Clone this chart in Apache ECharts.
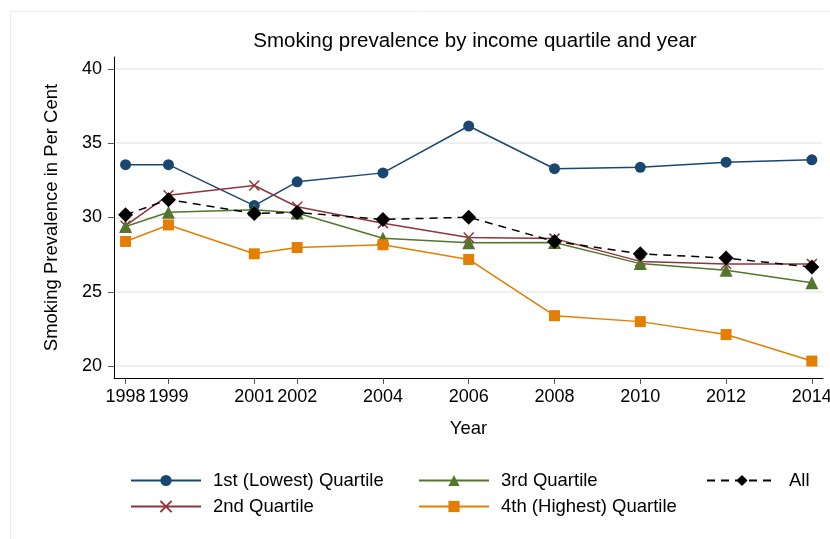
<!DOCTYPE html>
<html>
<head>
<meta charset="utf-8">
<script src="https://cdn.jsdelivr.net/npm/echarts@6/dist/echarts.min.js"></script>
<style>html,body{margin:0;padding:0;background:#fff}#c{width:830px;height:539px}</style>
</head>
<body>
<div id="c"></div>
<script>
const years = [1998, 1999, 2001, 2002, 2004, 2006, 2008, 2010, 2012, 2014];
const yTicks = [20, 25, 30, 35, 40];
const q1 = [33.55, 33.55, 30.8, 32.4, 33.0, 36.15, 33.28, 33.37, 33.72, 33.88];
const q2 = [29.45, 31.5, 32.15, 30.72, 29.62, 28.65, 28.58, 27.05, 26.87, 26.87];
const q3 = [29.4, 30.35, 30.52, 30.3, 28.6, 28.3, 28.32, 26.9, 26.45, 25.62];
const q4 = [28.39, 29.5, 27.56, 27.98, 28.17, 27.18, 23.4, 23.0, 22.13, 20.35];
const all = [30.18, 31.2, 30.27, 30.34, 29.87, 30.02, 28.39, 27.56, 27.27, 26.67];
const names = ['1st (Lowest) Quartile', '2nd Quartile', '3rd Quartile', '4th (Highest) Quartile', 'All'];

const FONT = 'Liberation Sans, Arial, sans-serif';
const pairs = arr => years.map((y, i) => [y, arr[i]]);
const mk = (name, data, color, symbol, size, dashed) => ({
  name, type: 'line', data: pairs(data),
  symbol, symbolSize: size,
  lineStyle: { color, width: 1.5, type: dashed ? [8, 6] : 'solid' },
  itemStyle: { color, borderColor: color, borderWidth: symbol.startsWith('path') ? 1.5 : 0 },
  emphasis: { disabled: true },
  animation: false, z: 3
});
const legendText = { fontFamily: FONT, fontSize: 18.5, lineHeight: 19, color: '#000', padding: [0, 0, 0, 7] };

const chart = echarts.init(document.getElementById('c'), null, { renderer: 'canvas' });
chart.setOption({
  animation: false,
  backgroundColor: '#fff',
  textStyle: { fontFamily: FONT },
  title: {
    text: 'Smoking prevalence by income quartile and year',
    left: 470, top: 26, textAlign: 'center',
    textStyle: { fontFamily: FONT, fontSize: 20.5, fontWeight: 'normal', color: '#000' }
  },
  graphic: [{
    type: 'rect', shape: { x: 10.5, y: 11.5, width: 830, height: 540 },
    style: { fill: 'none', stroke: '#ebebeb', lineWidth: 1 }, z: -1, silent: true
  }],
  grid: { left: 114, top: 57, right: 7, bottom: 161, containLabel: false, outerBoundsMode: 'none' },
  xAxis: {
    type: 'value', min: 1997.73, max: 2014.26,
    name: 'Year', nameLocation: 'middle', nameGap: 41,
    nameTextStyle: { fontFamily: FONT, fontSize: 18.5, color: '#000' },
    axisLine: { show: true, onZero: false, lineStyle: { color: '#000', width: 1 } },
    axisTick: { show: true, length: 6, customValues: years, lineStyle: { color: '#555' } },
    axisLabel: { customValues: years, margin: 10, fontFamily: FONT, fontSize: 18, color: '#000',
      formatter: v => String(v) },
    splitLine: { show: false }
  },
  yAxis: {
    type: 'value', min: 19.21, max: 40.79,
    name: 'Smoking Prevalence in Per Cent', nameLocation: 'middle', nameGap: 53, nameRotate: 90,
    nameTextStyle: { fontFamily: FONT, fontSize: 18.5, color: '#000' },
    axisLine: { show: true, onZero: false, lineStyle: { color: '#000', width: 1 } },
    axisTick: { show: true, length: 6, customValues: yTicks, lineStyle: { color: '#555' } },
    axisLabel: { customValues: yTicks, margin: 12, fontFamily: FONT, fontSize: 18, color: '#000',
      formatter: v => String(v) },
    splitLine: { show: true, lineStyle: { color: '#eaeaea', width: 1.5 } }
  },
  legend: [
    { data: [names[0], names[1]], left: 125, top: 466, orient: 'vertical', itemWidth: 70, itemHeight: 14, itemGap: 7,
      textStyle: legendText, selectedMode: false },
    { data: [names[2], names[3]], left: 413, top: 466, orient: 'vertical', itemWidth: 70, itemHeight: 14, itemGap: 7,
      textStyle: legendText, selectedMode: false },
    { data: [names[4]], left: 701, top: 466, orient: 'vertical', itemWidth: 70, itemHeight: 14, itemGap: 7,
      textStyle: legendText, selectedMode: false }
  ],
  series: [
    mk(names[0], q1, '#1a476f', 'circle', 11, false),
    mk(names[1], q2, '#90353b', 'path://M0,0L10,10M10,0L0,10', 10, false),
    mk(names[2], q3, '#55752f', 'triangle', 13, false),
    mk(names[3], q4, '#e37e00', 'rect', 11, false),
    mk(names[4], all, '#000000', 'diamond', 15, true)
  ]
});
</script>
</body>
</html>
